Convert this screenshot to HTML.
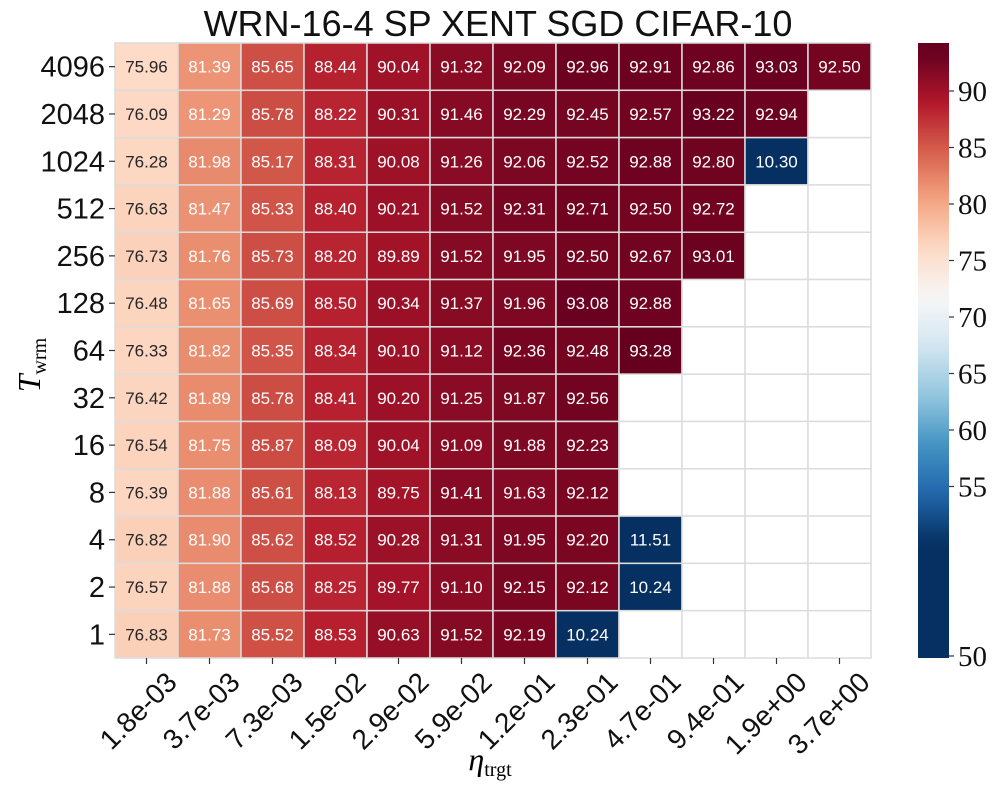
<!DOCTYPE html>
<html><head><meta charset="utf-8"><style>
html,body{margin:0;padding:0;background:#fff;}
svg{display:block;}
</style></head><body>
<svg id="chart" width="997" height="809" xmlns="http://www.w3.org/2000/svg" font-family="Liberation Sans, sans-serif">
<text x="498" y="36" font-size="36" text-anchor="middle" fill="#111">WRN-16-4 SP XENT SGD CIFAR-10</text>
<g id="cells"></g>
<g id="yticks"></g>
<g id="xticks"></g>
<text transform="translate(40,365) rotate(-90)" font-family="Liberation Serif, serif" font-size="32" font-style="italic" text-anchor="middle">T<tspan font-size="20" font-style="normal" dy="6">wrm</tspan></text>
<text x="490" y="770" font-family="Liberation Serif, serif" font-size="32" font-style="italic" text-anchor="middle">η<tspan font-size="20" font-style="normal" dy="6">trgt</tspan></text>
<defs><linearGradient id="cbg" x1="0" y1="1" x2="0" y2="0"></linearGradient></defs>
<rect x="918" y="43" width="31" height="615" fill="url(#cbg)"/>
<g id="cbticks"></g>
</svg>
<script>
const xLabels = ["1.8e-03","3.7e-03","7.3e-03","1.5e-02","2.9e-02","5.9e-02","1.2e-01","2.3e-01","4.7e-01","9.4e-01","1.9e+00","3.7e+00"];
const yLabels = ["4096","2048","1024","512","256","128","64","32","16","8","4","2","1"];
const values = [
[75.96,81.39,85.65,88.44,90.04,91.32,92.09,92.96,92.91,92.86,93.03,92.50],
[76.09,81.29,85.78,88.22,90.31,91.46,92.29,92.45,92.57,93.22,92.94,null],
[76.28,81.98,85.17,88.31,90.08,91.26,92.06,92.52,92.88,92.80,10.30,null],
[76.63,81.47,85.33,88.40,90.21,91.52,92.31,92.71,92.50,92.72,null,null],
[76.73,81.76,85.73,88.20,89.89,91.52,91.95,92.50,92.67,93.01,null,null],
[76.48,81.65,85.69,88.50,90.34,91.37,91.96,93.08,92.88,null,null,null],
[76.33,81.82,85.35,88.34,90.10,91.12,92.36,92.48,93.28,null,null,null],
[76.42,81.89,85.78,88.41,90.20,91.25,91.87,92.56,null,null,null,null],
[76.54,81.75,85.87,88.09,90.04,91.09,91.88,92.23,null,null,null,null],
[76.39,81.88,85.61,88.13,89.75,91.41,91.63,92.12,null,null,null,null],
[76.82,81.90,85.62,88.52,90.28,91.31,91.95,92.20,11.51,null,null,null],
[76.57,81.88,85.68,88.25,89.77,91.10,92.15,92.12,10.24,null,null,null],
[76.83,81.73,85.52,88.53,90.63,91.52,92.19,10.24,null,null,null,null]
];
const cbTicks = [90,85,80,75,70,65,60,55];
const NS="http://www.w3.org/2000/svg";
const L=115,T=43,R=871,B=658;
const cw=(R-L)/xLabels.length, ch=(B-T)/yLabels.length;
const vmin=50,vmax=93.28;
const stops=["#053061","#2166ac","#4393c3","#92c5de","#d1e5f0","#f7f7f7","#fddbc7","#f4a582","#d6604d","#b2182b","#67001f"];
function hex(h){return [1,3,5].map(i=>parseInt(h.substr(i,2),16));}
function cmap(v){let f=(v-vmin)/(vmax-vmin);f=Math.max(0,Math.min(1,f));const p=f*10,i=Math.min(9,Math.floor(p)),t=p-i;const a=hex(stops[i]),b=hex(stops[i+1]);return "rgb("+a.map((x,k)=>Math.round(x+(b[k]-x)*t)).join(",")+")";}
function lum(v){let f=(v-vmin)/(vmax-vmin);return f>0.35&&f<0.68;}
function el(tag,attrs,parent){const e=document.createElementNS(NS,tag);for(const k in attrs)e.setAttribute(k,attrs[k]);parent.appendChild(e);return e;}
const cells=document.getElementById('cells');
values.forEach((row,r)=>row.forEach((v,c)=>{
  const x=L+c*cw,y=T+r*ch;
  const rc=el('rect',{x:x,y:y,width:cw,height:ch,fill:v==null?"#fff":cmap(v),stroke:"#dcdcdc","stroke-width":1.5},cells);
  
  
  if(v!=null){
    const t=el('text',{x:x+cw/2,y:y+ch/2+6,"font-size":17,"text-anchor":"middle",fill:lum(v)?"#262626":"#fff"},cells);
    
    
    t.textContent=v.toFixed(2);
  }
}));
const yt=document.getElementById('yticks');
yLabels.forEach((lab,r)=>{
  const y=T+(r+0.5)*ch;
  el('line',{x1:L-6,x2:L,y1:y,y2:y,stroke:"#333","stroke-width":1.2},yt);
  const t=el('text',{x:L-10,y:y+10,"font-size":29,"text-anchor":"end",fill:"#111"},yt);
  
  
  t.textContent=lab;
});
const xt=document.getElementById('xticks');
xLabels.forEach((lab,c)=>{
  const x=L+(c+0.5)*cw;
  el('line',{x1:x,x2:x,y1:B,y2:B+6,stroke:"#333","stroke-width":1.2},xt);
  const t=el('text',{transform:"translate("+(x+32)+","+(B+26)+") rotate(-45)","font-size":28,"text-anchor":"end",fill:"#111"},xt);
  
  
  t.textContent=lab;
});
function cbY(v){return 91+(90-v)*11.3;}
const g=document.querySelector('#cbg');
for(let i=0;i<=40;i++){
  const y=43+615*(1-i/40);
  let v=90-(y-91)/11.3; v=Math.max(50,v);
  el('stop',{offset:(i/40),"stop-color":cmap(v)},g);
}
const cbt=document.getElementById('cbticks');
cbTicks.forEach(v=>{
  const y=cbY(v);
  el('line',{x1:949,x2:954,y1:y,y2:y,stroke:"#333","stroke-width":1.2},cbt);
  const t=el('text',{x:958,y:y+10,"font-size":29,"font-family":"Liberation Serif, serif",fill:"#111"},cbt);
  
  
  t.textContent=v;
});
el('line',{x1:949,x2:954,y1:656,y2:656,stroke:"#333","stroke-width":1.2},cbt);
const t50=el('text',{x:958,y:666,"font-size":29,"font-family":"Liberation Serif, serif",fill:"#111"},cbt);


t50.textContent="50";
</script>
</body></html>
